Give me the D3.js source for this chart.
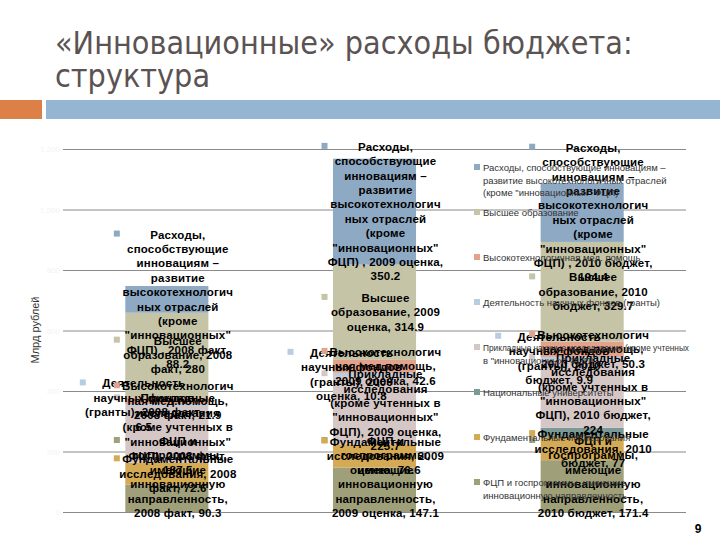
<!DOCTYPE html>
<html>
<head>
<meta charset="utf-8">
<script src="https://cdn.jsdelivr.net/npm/d3@7"></script>
<style>
  body { margin: 0; background: #fff; }
  text { font-family: "Liberation Sans", Arial, sans-serif; }
</style>
</head>
<body>
<svg id="chart" width="720" height="540"></svg>
<script>
// categories (columns)
const categories = ["2008 факт", "2009 оценка", "2010 бюджет"];

// series, bottom of the stack first
const fcpValues = [90.3, 147.1, 171.4];
const fundValues = [72.6, 76.6, 77];
const univValues = [0, 0, 30.5];
const appliedValues = [187.5, 225.7, 224];
const grantValues = [6.5, 10.8, 9.9];
const medValues = [21.9, 42.6, 50.3];
const eduValues = [280, 314.9, 329.7];
const hiTechValues = [88.2, 350.2, 194.4];

const seriesNames = [
  "ФЦП и госпрограммы, имеющие инновационную направленность",
  "Фундаментальные исследования",
  "Национальные университеты",
  "Прикладные исследования (кроме учтенных в \"инновационных\" ФЦП)",
  "Деятельность научных фондов (гранты)",
  "Высокотехнологичная мед.помощь",
  "Высшее образование",
  "Расходы, способствующие инновациям – развитие высокотехнологичных отраслей (кроме \"инновационных\" ФЦП) "
];

// legend text as it is broken in the picture, same order as the series
const legendLines = [
  ["ФЦП и госпрограммы, имеющие", "инновационную направленность"],
  ["Фундаментальные исследования"],
  ["Национальные университеты"],
  ["Прикладные научные исследования (кроме учтенных", "в \"инновационных\" ФЦП)"],
  ["Деятельность научных фондов (гранты)"],
  ["Высокотехнологичная мед. помощь"],
  ["Высшее образование"],
  ["Расходы, способствующие инновациям –", "развитие высокотехнологичных отраслей", "(кроме \"инновационных\" ФЦП)"]
];

const yTicks = [0, 200, 400, 600, 800, 1000, 1200];

const colors = ["#9fa07a", "#d4aa55", "#7d9996", "#d6c7c7", "#b9cde0", "#e3a28b", "#c5c4a7", "#8ea9c3"];
// the grant labels sit off to the left in the original
const labelShift = [0, 0, 0, 0, -34, 0, 0, 0];
const unlabeled = new Set([2]);

const seriesValues = [fcpValues, fundValues, univValues, appliedValues, grantValues, medValues, eduValues, hiTechValues];
const keys = seriesNames.map((d, i) => "s" + i);
const table = categories.map((c, j) => {
  const row = { cat: c, idx: j };
  seriesValues.forEach((vals, i) => { row[keys[i]] = vals[j]; });
  return row;
});

const svg = d3.select("#chart");
const left = 63, right = 686;

// top band
svg.append("rect").attr("x", 0).attr("y", 100).attr("width", 42).attr("height", 19).attr("fill", "#dd8047");
svg.append("rect").attr("x", 46).attr("y", 100).attr("width", 674).attr("height", 19).attr("fill", "#94b6d2");

// title
const title = svg.append("text")
  .style("font-family", "\"Liberation Sans Narrow\", \"DejaVu Sans Condensed\", sans-serif")
  .style("font-size", "32px")
  .attr("fill", "#5b5352");
title.append("tspan").attr("x", 55).attr("y", 54).text("«Инновационные» расходы бюджета:");
title.append("tspan").attr("x", 55).attr("y", 87).text("структура");

const x = d3.scaleBand().domain(categories).range([left, right]).paddingInner(0.6).paddingOuter(0.3);
const y = d3.scaleLinear().domain([0, 1200]).range([512, 149]);

// grid and (almost invisible) tick labels
const gAxis = svg.append("g")
  .attr("transform", `translate(${left},0)`)
  .call(d3.axisLeft(y).tickValues(yTicks).tickSize(-(right - left)).tickPadding(3));
gAxis.select(".domain").remove();
gAxis.selectAll(".tick line").attr("stroke", "#8a8a8a").attr("stroke-width", 1);
gAxis.selectAll(".tick text").attr("fill", "#f3f3f3").style("font-size", "8px");

// axis title
svg.append("text")
  .attr("transform", "translate(39,330) rotate(-90)")
  .attr("text-anchor", "middle")
  .style("font-size", "11px")
  .attr("fill", "#333")
  .text("Млрд рублей");

// bars
const stacked = d3.stack().keys(keys)(table);
const layers = svg.append("g").selectAll("g").data(stacked).join("g")
  .attr("fill", (d, i) => colors[i]);
layers.selectAll("rect").data(d => d).join("rect")
  .attr("x", d => x(d.data.cat))
  .attr("width", x.bandwidth())
  .attr("y", d => y(d[1]))
  .attr("height", d => y(d[0]) - y(d[1]));

// data labels
const labelFont = "bold 11.5px \"Liberation Sans\", Arial, sans-serif";
const measure = svg.append("text").style("font", labelFont).style("letter-spacing", "0.2px").attr("visibility", "hidden");
function textWidth(s) {
  measure.text(s);
  return measure.node().getComputedTextLength();
}
function wrap(str, maxW, charW) {
  const words = str.split(" ").filter(w => w.length);
  const lines = [];
  let cur = "";
  words.forEach(w => {
    const test = cur ? cur + " " + w : w;
    if (textWidth(test) <= maxW) { cur = test; return; }
    if (cur) lines.push(cur);
    cur = w;
    while (textWidth(cur) > maxW) {
      let k = cur.length;
      while (k > 1 && textWidth(cur.slice(0, k)) > charW) k--;
      lines.push(cur.slice(0, k));
      cur = cur.slice(k);
    }
  });
  if (cur) lines.push(cur);
  return lines;
}

const lh = 14.4;
const gLabels = svg.append("g");
stacked.forEach((layer, i) => {
  if (unlabeled.has(i)) return;
  layer.forEach(d => {
    const v = seriesValues[i][d.data.idx];
    if (!v) return;
    const txt = `${seriesNames[i]}, ${d.data.cat}, ${v}`;
    const lines = wrap(txt, 119, 113);
    const cx = x(d.data.cat) + x.bandwidth() / 2 + labelShift[i];
    const cy = (y(d[0]) + y(d[1])) / 2;
    let first = cy - (lines.length - 1) * lh / 2 + 4;
    const last = first + (lines.length - 1) * lh;
    if (last > 517) first -= last - 517;
    gLabels.append("rect")
      .attr("x", cx - 53).attr("y", first - 8)
      .attr("width", 6).attr("height", 6)
      .attr("fill", colors[i]);
    const t = gLabels.append("text")
      .attr("text-anchor", "middle")
      .style("font", labelFont)
      .style("letter-spacing", "0.2px")
      .attr("fill", "#000");
    lines.forEach((ln, k) => {
      t.append("tspan").attr("x", cx + 11).attr("y", first + k * lh).text(ln);
    });
  });
});
measure.remove();

// legend, top series first
const legend = svg.append("g");
const order = d3.range(seriesNames.length).reverse();
order.forEach((i, n) => {
  const by = 171 + n * 45;
  legend.append("rect").attr("x", 474).attr("y", by - 7).attr("width", 6).attr("height", 6).attr("fill", colors[i]);
  const t = legend.append("text").style("font-size", "9.5px").attr("fill", "#333");
  legendLines[i].forEach((ln, k) => {
    const sp = t.append("tspan").attr("x", 483).attr("y", by + k * 12.5).text(ln);
    if (sp.node().getComputedTextLength() > 206) {
      sp.attr("textLength", 206).attr("lengthAdjust", "spacingAndGlyphs");
    }
  });
});

// slide number
svg.append("text")
  .attr("x", 698).attr("y", 533)
  .attr("text-anchor", "middle")
  .style("font", "bold 12px \"Liberation Sans\", Arial, sans-serif")
  .text("9");
</script>
</body>
</html>
